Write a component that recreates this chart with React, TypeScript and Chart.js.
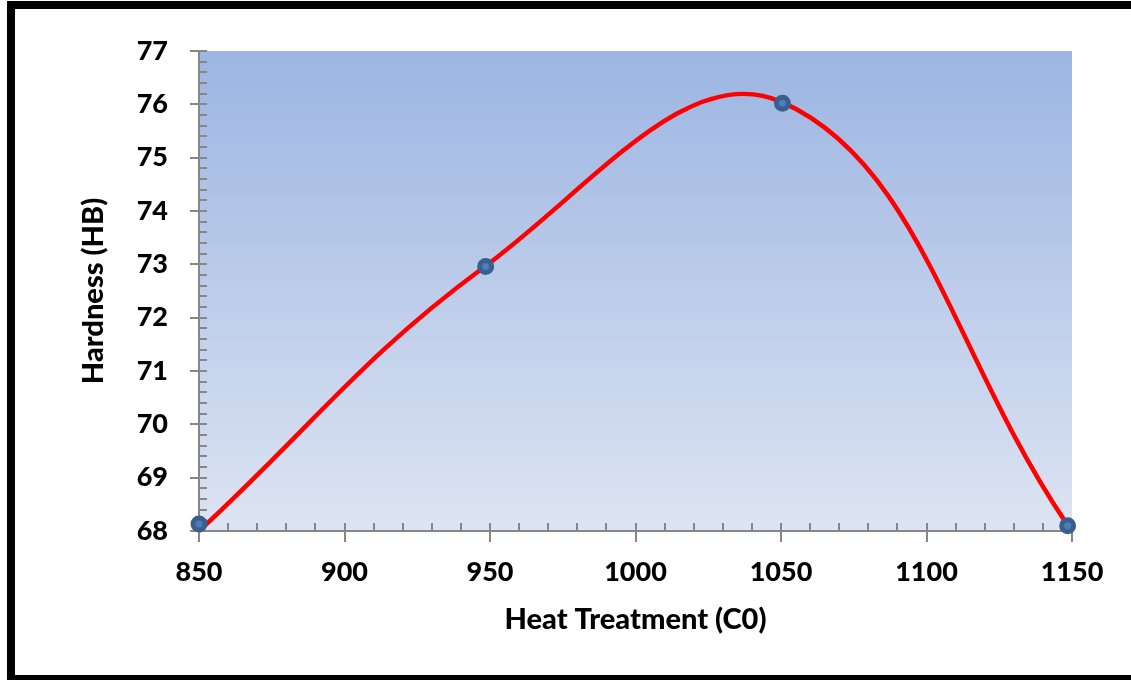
import React, { useEffect, useRef } from "react";
import { Chart, registerables } from "chart.js";

Chart.register(...registerables);

// Heat treatment temperature (°C) for the measured samples
const markerTemps = [850, 948.5, 1050.5, 1148.5];
const markerHardness = [68.13, 72.96, 76.02, 68.1];

// Smoothed red curve series
const curveTemps = [850, 948, 1050, 1148];
const curveHardness = [68.0, 72.95, 76.05, 68.15];

const xTicks = [850, 900, 950, 1000, 1050, 1100, 1150];
const yTicks = [68, 69, 70, 71, 72, 73, 74, 75, 76, 77];

const xTitle = "Heat Treatment (C0)";
const yTitle = "Hardness (HB)";

const FONT = "Lato, 'Open Sans', sans-serif";

const bgPlugin = {
  id: "bgGradient",
  beforeDraw(chart: any) {
    const { ctx, chartArea } = chart;
    if (!chartArea) return;
    const g = ctx.createLinearGradient(0, chartArea.top, 0, chartArea.bottom);
    g.addColorStop(0, "#9cb5e2");
    g.addColorStop(1, "#dde4f2");
    ctx.save();
    ctx.fillStyle = g;
    ctx.fillRect(chartArea.left, chartArea.top, chartArea.right - chartArea.left, chartArea.bottom - chartArea.top);
    ctx.restore();
  },
};

const axesPlugin = {
  id: "excelAxes",
  beforeDatasetsDraw(chart: any) {
    const { ctx, chartArea } = chart;
    const xs = chart.scales.x;
    const ys = chart.scales.y;
    ctx.save();
    ctx.strokeStyle = "#878787";
    ctx.lineWidth = 2;
    ctx.beginPath();
    ctx.moveTo(chartArea.left, chartArea.top);
    ctx.lineTo(chartArea.left, chartArea.bottom);
    ctx.moveTo(chartArea.left, chartArea.bottom);
    ctx.lineTo(chartArea.right, chartArea.bottom);
    for (let v = ys.min; v <= ys.max + 1e-6; v += 0.2) {
      const p = Math.round(ys.getPixelForValue(v));
      ctx.moveTo(chartArea.left, p);
      ctx.lineTo(chartArea.left + 8, p);
    }
    ys.ticks.forEach((t: any) => {
      const p = Math.round(ys.getPixelForValue(t.value));
      ctx.moveTo(chartArea.left - 9, p);
      ctx.lineTo(chartArea.left + 8, p);
    });
    for (let v = xs.min; v <= xs.max + 1e-6; v += 10) {
      const p = Math.round(xs.getPixelForValue(v));
      ctx.moveTo(p, chartArea.bottom);
      ctx.lineTo(p, chartArea.bottom - 8);
    }
    xs.ticks.forEach((t: any) => {
      const p = Math.round(xs.getPixelForValue(t.value));
      ctx.moveTo(p, chartArea.bottom - 8);
      ctx.lineTo(p, chartArea.bottom + 11);
    });
    ctx.stroke();
    ctx.restore();
  },
};

export default function App() {
  const ref = useRef<HTMLCanvasElement | null>(null);

  useEffect(() => {
    if (!ref.current) return;
    const chart = new Chart(ref.current, {
      type: "scatter",
      data: {
        datasets: [
          {
            label: "Measured",
            data: markerTemps.map((x, i) => ({ x, y: markerHardness[i] })),
            showLine: false,
            pointRadius: 6,
            pointHoverRadius: 6,
            pointBorderWidth: 5,
            pointBackgroundColor: "#4a7ebb",
            pointBorderColor: "#3a5f8e",
            clip: false as any,
          },
          {
            label: "Curve",
            data: curveTemps.map((x, i) => ({ x, y: curveHardness[i] })),
            showLine: true,
            tension: 0.4,
            borderColor: "#ff0000",
            borderWidth: 4.5,
            pointRadius: 0,
            pointHoverRadius: 0,
            clip: false as any,
          },
        ],
      },
      options: {
        responsive: false,
        animation: false,
        devicePixelRatio: 1,
        layout: { padding: { left: 0, top: 51, right: 59, bottom: 0 } },
        plugins: {
          legend: { display: false },
          tooltip: { enabled: false },
          title: { display: false },
        },
        scales: {
          x: {
            type: "linear",
            min: xTicks[0],
            max: xTicks[xTicks.length - 1],
            afterBuildTicks: (s: any) => {
              s.ticks = xTicks.map((v) => ({ value: v }));
            },
            afterFit: (s: any) => {
              s.height = 149;
            },
            grid: { display: false, drawTicks: false },
            border: { display: false },
            ticks: {
              color: "#000",
              padding: 25,
              maxRotation: 0,
              autoSkip: false,
              callback: (v: any) => String(v),
              font: { family: FONT, size: 27, weight: "900" },
            },
            title: {
              display: true,
              text: xTitle,
              color: "#000",
              padding: { top: 0, bottom: 43 },
              font: { family: FONT, size: 29, weight: "900" },
            },
          },
          y: {
            type: "linear",
            min: yTicks[0],
            max: yTicks[yTicks.length - 1],
            afterBuildTicks: (s: any) => {
              s.ticks = yTicks.map((v) => ({ value: v }));
            },
            afterFit: (s: any) => {
              s.width = 199;
            },
            grid: { display: false, drawTicks: false },
            border: { display: false },
            ticks: {
              color: "#000",
              padding: 31,
              autoSkip: false,
              callback: (v: any) => String(v),
              font: { family: FONT, size: 27, weight: "900" },
            },
            title: {
              display: true,
              text: yTitle,
              color: "#000",
              padding: { top: 76, bottom: 0 },
              font: { family: FONT, size: 29, weight: "900" },
            },
          },
        },
      },
      plugins: [bgPlugin, axesPlugin],
    });
    return () => chart.destroy();
  }, []);

  return (
    <div
      style={{
        position: "fixed",
        left: 0,
        top: 0,
        width: 1131,
        height: 680,
        overflow: "hidden",
        background: "#fff",
      }}
    >
      <canvas ref={ref} width={1131} height={680} style={{ position: "absolute", left: 0, top: 0 }} />
      <div
        style={{
          position: "absolute",
          left: 7,
          top: 1,
          width: 1300,
          height: 666,
          borderTop: "8px solid #000",
          borderLeft: "8px solid #000",
          borderBottom: "8px solid #000",
          pointerEvents: "none",
        }}
      />
    </div>
  );
}
